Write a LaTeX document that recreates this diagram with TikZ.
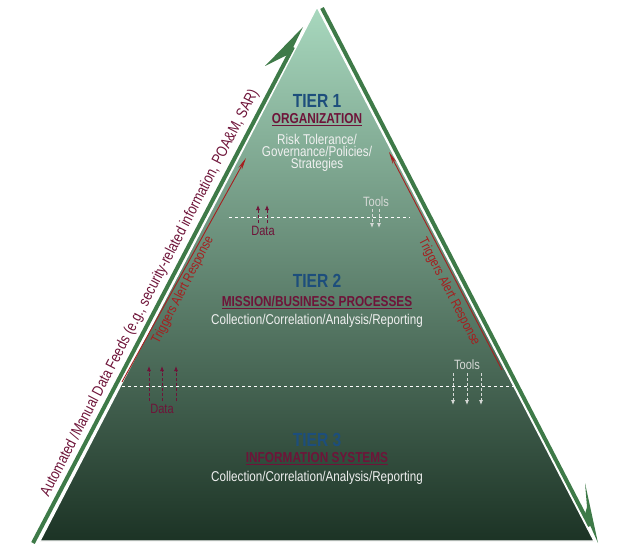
\documentclass[tikz,border=0pt]{standalone}
\usepackage{fontspec}
\setmainfont{Liberation Sans}[FakeStretch=0.82]
\usepackage{tikz}
\usetikzlibrary{arrows.meta}

\definecolor{pyrtop}{HTML}{A8D8BE}
\definecolor{pyrmid}{HTML}{649C7B}
\definecolor{pyrbot}{HTML}{1C3325}
\definecolor{feedgreen}{HTML}{3E7A48}
\definecolor{tierblue}{HTML}{1D4E7C}
\definecolor{maroon}{HTML}{6E1439}
\definecolor{alertred}{HTML}{A61E1E}
\definecolor{toolgrey}{HTML}{D6D9D6}

\tikzset{
  tiertitle/.style={text=tierblue, font=\bfseries\fontsize{19}{20}\selectfont},
  tiername/.style={text=maroon, font=\bfseries\fontsize{14.4}{15}\selectfont},
  tiertext/.style={text=white!94!black, align=center, font=\fontsize{14.2}{11.8}\selectfont},
  smalllabel/.style={font=\fontsize{13.5}{14}\selectfont},
  dataarrow/.style={maroon, densely dashed, line width=0.8pt, -{Latex[length=5pt,width=4pt]}},
  toolarrow/.style={toolgrey, densely dashed, line width=0.8pt, -{Latex[length=5pt,width=4pt]}},
  alertarrow/.style={alertred, line width=0.9pt, -{Stealth[length=12pt,width=4pt]}},
  feedline/.style={feedgreen, line width=4pt},
  tierline/.style={white, dashed, line width=1pt}
}

\begin{document}
\begin{tikzpicture}[x=1pt,y=-1pt]
        \useasboundingbox (0,0) rectangle (635,551);
        % pyramid
        \coordinate (apex) at (317,7);
        \coordinate (bl) at (40,541);
        \coordinate (br) at (594,541);
        \shade[top color=pyrtop, middle color=pyrmid, bottom color=pyrbot] (apex) -- (br) -- (bl) -- cycle;
        \draw[white, line width=1.2pt, line join=round] (apex) -- (br) -- (bl) -- cycle;

        % feed arrows along the sides
        \coordinate (feedstart) at (33,543);
        \coordinate (feedend) at (293,47);
        \draw[feedline] (feedstart) -- (feedend);
        \fill[feedgreen] (303,27) -- (265,66) -- (283,57) -- (290,54) -- cycle;
        \coordinate (backstart) at (322,8);
        \coordinate (backend) at (590,526);
        \draw[feedline] (backstart) -- (backend);
        \fill[feedgreen] (598,543) -- (585,483) -- (587,507) -- (585,514) -- cycle;
        \node[text=maroon, font=\fontsize{15.4}{16}\selectfont, rotate=62.6] (feeds) at (150,293)
          {Automated /Manual Data Feeds (e.g., security-related information, POA\&M, SAR)};

        % alert responses
        \coordinate (alertlb) at (122,382);
        \coordinate (alertlt) at (246,158);
        \draw[alertarrow] (alertlb) -- (alertlt);
        \node[text=alertred, smalllabel, rotate=62.6] (alertl) at (183,290) {Triggers Alert Response};
        \coordinate (alertrb) at (502,370);
        \coordinate (alertrt) at (389,152);
        \draw[alertarrow] (alertrb) -- (alertrt);
        \node[text=alertred, smalllabel, rotate=-62.6] (alertr) at (449,292) {Triggers Alert Response};

        % tier borders
        \coordinate (upl) at (229,217);
        \coordinate (upr) at (410,217);
        \draw[tierline] (upl) -- (upr);
        \coordinate (lowl) at (122,386);
        \coordinate (lowr) at (516,386);
        \draw[tierline] (lowl) -- (lowr);

        % tier 1
        \node[tiertitle] (tier1) at (317,101) {TIER 1};
        \node[tiername] (org) at (317,120) {\underline{ORGANIZATION}};
        \node[tiertext] (orgtext) at (317,153) {Risk Tolerance/\\Governance/Policies/\\Strategies};
        \node[text=maroon, smalllabel] (data1) at (263,231) {Data};
        \foreach \x in {258,267} \draw[dataarrow] (\x,223) -- (\x,205);
        \node[text=toolgrey, smalllabel] (tools1) at (376,202) {Tools};
        \foreach \x in {372,379} \draw[toolarrow] (\x,209) -- (\x,228);

        % tier 2
        \node[tiertitle] (tier2) at (317,281) {TIER 2};
        \node[tiername] (mission) at (317,302) {\underline{MISSION/BUSINESS PROCESSES}};
        \node[tiertext] (missiontext) at (317,321) {Collection/Correlation/Analysis/Reporting};
        \node[text=maroon, smalllabel] (data2) at (162,409) {Data};
        \foreach \x in {149,162,176} \draw[dataarrow] (\x,401) -- (\x,366);
        \node[text=toolgrey, smalllabel] (tools2) at (467,365) {Tools};
        \foreach \x in {453,467,481} \draw[toolarrow] (\x,373) -- (\x,405);

        % tier 3
        \node[tiertitle] (tier3) at (317,440) {TIER 3};
        \node[tiername] (infosys) at (317,459) {\underline{INFORMATION SYSTEMS}};
        \node[tiertext] (infotext) at (317,478) {Collection/Correlation/Analysis/Reporting};
      \end{tikzpicture}
\end{document}
